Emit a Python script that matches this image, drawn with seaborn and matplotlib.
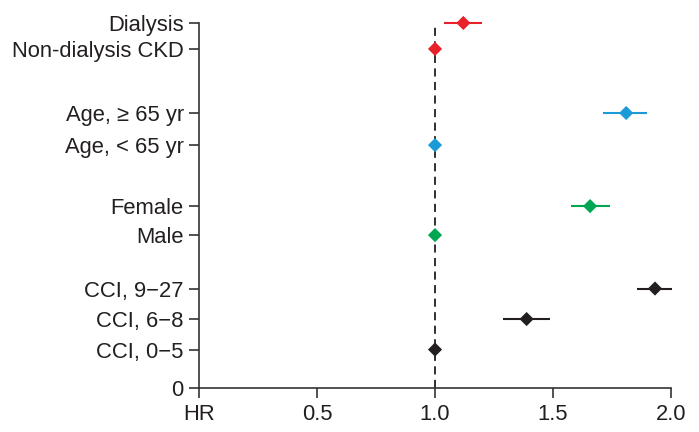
import numpy as np
import pandas as pd
import matplotlib
matplotlib.use("Agg")
import matplotlib.pyplot as plt
import seaborn as sns

# ---- data ----
labels = ["Dialysis", "Non-dialysis CKD", "Age, \u2265 65 yr", "Age, < 65 yr",
          "Female", "Male", "CCI, 9\u221227", "CCI, 6\u22128", "CCI, 0\u22125"]
y_pos = [11.95, 11.1, 9.0, 7.95, 5.95, 5.0, 3.25, 2.25, 1.25]
hr = [1.12, 1.0, 1.81, 1.0, 1.657, 1.0, 1.932, 1.388, 1.0]
ci_low = [1.04, np.nan, 1.71, np.nan, 1.575, np.nan, 1.856, 1.288, np.nan]
ci_high = [1.20, np.nan, 1.90, np.nan, 1.74, np.nan, 2.003, 1.489, np.nan]
group = ["ckd", "ckd", "age", "age", "sex", "sex", "cci", "cci", "cci"]

colors = {"ckd": "#e8202a", "age": "#1a9bd7", "sex": "#00a651", "cci": "#231f20"}

df = pd.DataFrame({"label": labels, "y": y_pos, "hr": hr,
                   "lo": ci_low, "hi": ci_high, "group": group})

sns.set_style("ticks")
plt.rcParams["font.family"] = ["Liberation Sans", "DejaVu Sans"]

fig = plt.figure(figsize=(6.99, 4.32), dpi=100)
ax = fig.add_axes([0.2847, 0.1025, 0.6753, 0.8443])

# reference line at HR = 1
ax.plot([1.0, 1.0], [0, df["y"].max()], color="#231f20", lw=1.3,
        ls=(0, (4.5, 3)), zorder=1)

# confidence intervals
ci = df.dropna(subset=["lo"])
ax.hlines(ci["y"], ci["lo"], ci["hi"], colors=[colors[g] for g in ci["group"]],
          lw=1.5, zorder=2, clip_on=False)

# point estimates
sns.scatterplot(data=df, x="hr", y="y", hue="group", palette=colors,
                marker="D", s=52, edgecolor="none", legend=False, ax=ax,
                zorder=3, clip_on=False)

ax.set_xlim(0, 2.0)
ax.set_ylim(0, 11.95)
ax.set_xticks([0, 0.5, 1.0, 1.5, 2.0])
ax.set_xticklabels(["HR", "0.5", "1.0", "1.5", "2.0"])
ax.set_yticks([0] + y_pos)
ax.set_yticklabels(["0"] + labels)
ax.set_xlabel("")
ax.set_ylabel("")

for s in ["top", "right"]:
    ax.spines[s].set_visible(False)
for s in ["left", "bottom"]:
    ax.spines[s].set_color("#333333")
    ax.spines[s].set_linewidth(1.2)
ax.tick_params(axis="both", length=7, width=1.2, color="#333333",
               labelsize=15.8, labelcolor="#231f20")
ax.tick_params(axis="x", pad=5)
ax.tick_params(axis="y", pad=4)

fig.savefig("out.png", dpi=100)
